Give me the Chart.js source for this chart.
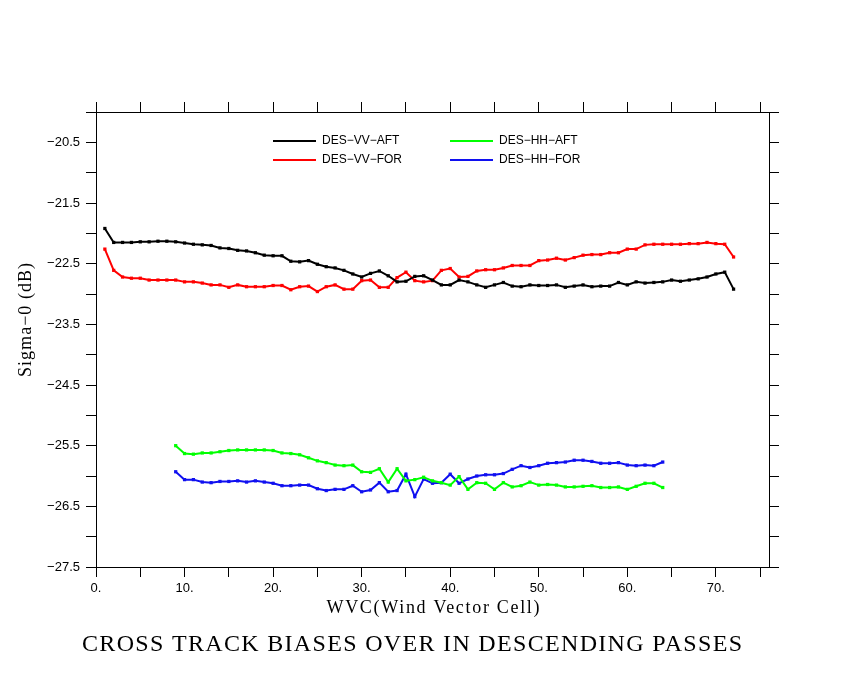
<!DOCTYPE html>
<html>
<head>
<meta charset="utf-8">
<script src="https://cdn.jsdelivr.net/npm/chart.js@4.4.1/dist/chart.umd.min.js"></script>
<style>
  html, body { margin: 0; padding: 0; background: #fff; }
  #wrap { width: 850px; height: 680px; }
</style>
</head>
<body>
<div id="wrap"><canvas id="chart" width="850" height="680"></canvas></div>
<script>
// WVC cells for the VV beams (1..72) and HH beams (9..64)
const wvcVV = [1, 2, 3, 4, 5, 6, 7, 8, 9, 10, 11, 12, 13, 14, 15, 16, 17, 18, 19, 20,
  21, 22, 23, 24, 25, 26, 27, 28, 29, 30, 31, 32, 33, 34, 35, 36, 37, 38, 39, 40,
  41, 42, 43, 44, 45, 46, 47, 48, 49, 50, 51, 52, 53, 54, 55, 56, 57, 58, 59, 60,
  61, 62, 63, 64, 65, 66, 67, 68, 69, 70, 71, 72];
const wvcHH = [9, 10, 11, 12, 13, 14, 15, 16, 17, 18, 19, 20, 21, 22, 23, 24, 25, 26,
  27, 28, 29, 30, 31, 32, 33, 34, 35, 36, 37, 38, 39, 40, 41, 42, 43, 44, 45, 46,
  47, 48, 49, 50, 51, 52, 53, 54, 55, 56, 57, 58, 59, 60, 61, 62, 63, 64];

const vvAft = [-21.92, -22.15, -22.15, -22.15, -22.14, -22.14, -22.13, -22.13, -22.14, -22.16,
  -22.18, -22.19, -22.20, -22.24, -22.25, -22.28, -22.29, -22.32, -22.36, -22.37,
  -22.37, -22.46, -22.47, -22.45, -22.51, -22.55, -22.57, -22.61, -22.67, -22.72,
  -22.66, -22.62, -22.70, -22.80, -22.79, -22.71, -22.70, -22.77, -22.85, -22.85,
  -22.77, -22.80, -22.85, -22.89, -22.85, -22.81, -22.87, -22.88, -22.85, -22.86,
  -22.86, -22.85, -22.89, -22.87, -22.85, -22.88, -22.87, -22.87, -22.81, -22.85,
  -22.80, -22.82, -22.81, -22.80, -22.77, -22.79, -22.77, -22.75, -22.72, -22.67,
  -22.64, -22.92];
const vvFor = [-22.26, -22.61, -22.72, -22.74, -22.74, -22.77, -22.77, -22.77, -22.77, -22.80,
  -22.80, -22.82, -22.85, -22.85, -22.89, -22.85, -22.88, -22.88, -22.88, -22.86,
  -22.86, -22.93, -22.88, -22.87, -22.96, -22.88, -22.85, -22.92, -22.92, -22.78,
  -22.77, -22.89, -22.89, -22.73, -22.64, -22.78, -22.80, -22.78, -22.61, -22.58,
  -22.72, -22.71, -22.62, -22.60, -22.60, -22.57, -22.53, -22.53, -22.53, -22.45,
  -22.44, -22.41, -22.44, -22.40, -22.36, -22.35, -22.35, -22.32, -22.32, -22.26,
  -22.26, -22.19, -22.18, -22.18, -22.18, -22.18, -22.17, -22.17, -22.15, -22.17,
  -22.18, -22.39];
const hhAft = [-25.50, -25.63, -25.64, -25.62, -25.62, -25.60, -25.58, -25.57, -25.57, -25.57,
  -25.57, -25.58, -25.62, -25.63, -25.65, -25.70, -25.75, -25.78, -25.82, -25.83,
  -25.82, -25.93, -25.94, -25.88, -26.10, -25.88, -26.08, -26.06, -26.02, -26.08,
  -26.11, -26.15, -26.01, -26.22, -26.11, -26.12, -26.22, -26.11, -26.18, -26.16,
  -26.10, -26.15, -26.14, -26.15, -26.18, -26.18, -26.17, -26.16, -26.19, -26.19,
  -26.18, -26.22, -26.17, -26.12, -26.12, -26.19];
const hhFor = [-25.93, -26.06, -26.06, -26.10, -26.11, -26.09, -26.09, -26.08, -26.10, -26.08,
  -26.10, -26.12, -26.16, -26.16, -26.15, -26.15, -26.21, -26.24, -26.22, -26.22,
  -26.16, -26.26, -26.23, -26.11, -26.26, -26.24, -25.97, -26.34, -26.05, -26.12,
  -26.11, -25.97, -26.12, -26.05, -26.00, -25.98, -25.98, -25.96, -25.89, -25.83,
  -25.86, -25.83, -25.79, -25.78, -25.77, -25.74, -25.74, -25.76, -25.79, -25.79,
  -25.78, -25.82, -25.83, -25.82, -25.83, -25.77];

const seriesNames = ['DES\u2212VV\u2212AFT', 'DES\u2212VV\u2212FOR', 'DES\u2212HH\u2212AFT', 'DES\u2212HH\u2212FOR'];
const seriesColors = ['#000000', '#ff0000', '#00ff00', '#1010f0'];

const titleText = 'CROSS TRACK BIASES OVER IN DESCENDING PASSES';
const xTitle = 'WVC(Wind Vector Cell)';
const yTitle = 'Sigma\u22120 (dB)';

function pairs(xs, ys) {
  return xs.map((x, i) => ({ x: x, y: ys[i] }));
}

function makeSet(i, xs, ys) {
  return {
    label: seriesNames[i],
    data: pairs(xs, ys),
    borderColor: seriesColors[i],
    backgroundColor: seriesColors[i],
    borderWidth: 2,
    pointStyle: 'rect',
    pointRadius: 2.3,
    pointBorderWidth: 0,
    tension: 0,
    xAxisID: 'x',
    yAxisID: 'y',
  };
}

// draw text centred at (cx, cy), stretched with letter spacing to a target width
function fitText(ctx, text, cx, cy, width, font) {
  ctx.font = font;
  ctx.letterSpacing = '0px';
  const w = ctx.measureText(text).width;
  const sp = (width - w) / Math.max(text.length - 1, 1);
  ctx.letterSpacing = sp + 'px';
  ctx.textAlign = 'left';
  ctx.textBaseline = 'middle';
  ctx.fillText(text, cx - width / 2, cy);
  ctx.letterSpacing = '0px';
}

const decorations = {
  id: 'decorations',
  afterDraw(chart) {
    const ctx = chart.ctx;
    ctx.save();
    ctx.fillStyle = '#000';
    fitText(ctx, titleText, 412, 645, 660, '24px "Liberation Serif"');
    fitText(ctx, xTitle, 433, 608, 213, '18px "Liberation Serif"');

    ctx.save();
    ctx.translate(26, 320);
    ctx.rotate(-Math.PI / 2);
    fitText(ctx, yTitle, 0, 0, 114, '18px "Liberation Serif"');
    ctx.restore();

    // legend inside the plot, two columns
    const cols = [273, 450];
    const rows = [141, 160];
    ctx.font = '12px "Liberation Sans"';
    ctx.textAlign = 'left';
    ctx.textBaseline = 'middle';
    chart.data.datasets.forEach((ds, i) => {
      const lx = cols[Math.floor(i / 2)];
      const ly = rows[i % 2];
      ctx.strokeStyle = ds.borderColor;
      ctx.lineWidth = 2;
      ctx.beginPath();
      ctx.moveTo(lx, ly);
      ctx.lineTo(lx + 43, ly);
      ctx.stroke();
      ctx.fillStyle = '#000';
      ctx.fillText(ds.label, lx + 49, ly);
    });
    ctx.restore();
  }
};

const axisGrid = { drawOnChartArea: false, drawTicks: true, tickLength: 10, color: '#000', lineWidth: 1 };
const axisBorder = { display: true, color: '#000', width: 1 };
const tickFont = { family: 'Liberation Sans', size: 13 };

new Chart(document.getElementById('chart'), {
  type: 'line',
  data: {
    datasets: [
      makeSet(0, wvcVV, vvAft),
      makeSet(1, wvcVV, vvFor),
      makeSet(2, wvcHH, hhAft),
      makeSet(3, wvcHH, hhFor),
    ],
  },
  options: {
    responsive: false,
    animation: false,
    devicePixelRatio: 1,
    layout: { padding: 0 },
    plugins: {
      legend: { display: false },
      tooltip: { enabled: false },
      title: { display: false },
    },
    scales: {
      x: {
        type: 'linear',
        position: 'bottom',
        min: 0,
        max: 76,
        ticks: {
          stepSize: 5,
          includeBounds: false,
          autoSkip: false,
          maxRotation: 0,
          padding: 4,
          color: '#000',
          font: tickFont,
          callback: (v) => (v % 10 === 0 ? v + '.' : ''),
        },
        grid: axisGrid,
        border: axisBorder,
        afterFit: (s) => { s.height = 113; },
      },
      x2: {
        type: 'linear',
        position: 'top',
        min: 0,
        max: 76,
        ticks: { stepSize: 5, includeBounds: false, display: false },
        grid: axisGrid,
        border: axisBorder,
        afterFit: (s) => { s.height = 112; },
      },
      y: {
        type: 'linear',
        position: 'left',
        min: -27.5,
        max: -20,
        ticks: {
          stepSize: 0.5,
          includeBounds: false,
          autoSkip: false,
          padding: 6,
          color: '#000',
          font: tickFont,
          callback: (v) => (Math.round(v * 2) % 2 !== 0 ? '\u2212' + Math.abs(v).toFixed(1) : ''),
        },
        grid: axisGrid,
        border: axisBorder,
        afterFit: (s) => { s.width = 96; },
      },
      y2: {
        type: 'linear',
        position: 'right',
        min: -27.5,
        max: -20,
        ticks: { stepSize: 0.5, includeBounds: false, display: false },
        grid: axisGrid,
        border: axisBorder,
        afterFit: (s) => { s.width = 81; },
      },
    },
  },
  plugins: [decorations],
});
</script>
</body>
</html>
